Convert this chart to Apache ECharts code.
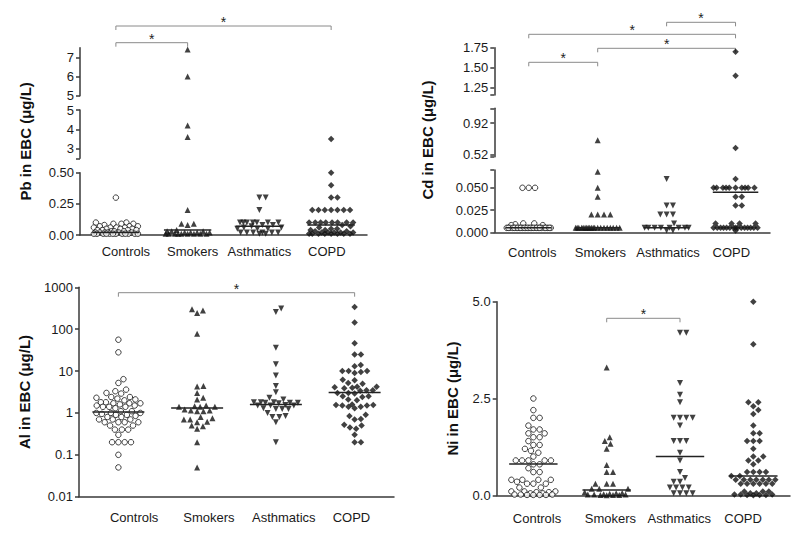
<!DOCTYPE html>
<html><head><meta charset="utf-8">
<script src="https://cdn.jsdelivr.net/npm/echarts@6/dist/echarts.min.js"></script>
<style>html,body{margin:0;padding:0;background:#fff}#c{width:800px;height:538px}</style>
</head><body><div id="c"></div>
<script>
// ---------------- DATA ----------------
const categories = ['Controls', 'Smokers', 'Asthmatics', 'COPD'];

const pbControls = [0.30, 0.10, 0.10, 0.09, 0.09, 0.09, 0.08, 0.07, 0.07, 0.07, 0.06, 0.06, 0.06, 0.06, 0.05, 0.05, 0.05, 0.04, 0.04, 0.04, 0.04, 0.03, 0.03, 0.03, 0.02, 0.02, 0.02, 0.02, 0.02, 0.02, 0.01, 0.01, 0.01, 0.01, 0.01, 0.01, 0.01, 0.01, 0.01, 0.01, 0.01, 0.01];
const pbSmokers = [7.4, 6.0, 4.2, 3.6, 0.20, 0.09, 0.09, 0.08, 0.04, 0.03, 0.03, 0.03, 0.02, 0.02, 0.02, 0.02, 0.01, 0.01, 0.01, 0.01, 0.01, 0.01, 0.01, 0.01, 0.01];
const pbAsthmatics = [0.30, 0.30, 0.20, 0.10, 0.10, 0.10, 0.10, 0.10, 0.10, 0.10, 0.08, 0.08, 0.07, 0.06, 0.06, 0.05, 0.05, 0.05, 0.02, 0.02, 0.02, 0.02, 0.02, 0.02, 0.01, 0.01];
const pbCopd = [3.5, 0.50, 0.40, 0.30, 0.30, 0.20, 0.20, 0.20, 0.20, 0.20, 0.20, 0.20, 0.10, 0.10, 0.10, 0.10, 0.10, 0.10, 0.10, 0.10, 0.08, 0.07, 0.06, 0.05, 0.05, 0.04, 0.04, 0.03, 0.03, 0.02, 0.02, 0.02, 0.02, 0.02, 0.01, 0.01, 0.01, 0.01, 0.01, 0.01, 0.01, 0.01];
const pbMedians = [0.02, 0.04, 0.07, 0.08];
const pbBrackets = [[0, 3], [0, 1]];

const cdControls = [0.05, 0.05, 0.05, 0.010, 0.010, 0.009, 0.008, 0.008, 0.005, 0.005, 0.005, 0.005, 0.005, 0.005, 0.005, 0.005, 0.005, 0.005, 0.005, 0.005, 0.005, 0.005, 0.005, 0.005, 0.005, 0.005, 0.005, 0.005, 0.005, 0.005, 0.005, 0.005, 0.005, 0.005, 0.005];
const cdSmokers = [0.70, 0.068, 0.05, 0.04, 0.02, 0.02, 0.02, 0.02, 0.005, 0.005, 0.005, 0.005, 0.005, 0.005, 0.005, 0.005, 0.005, 0.005, 0.005, 0.005, 0.005, 0.005, 0.005, 0.005, 0.005, 0.005, 0.005, 0.005];
const cdAsthmatics = [0.06, 0.03, 0.03, 0.02, 0.02, 0.02, 0.01, 0.005, 0.005, 0.005, 0.005, 0.005, 0.005, 0.005, 0.005, 0.002, 0.002];
const cdCopd = [1.70, 1.40, 0.60, 0.06, 0.05, 0.05, 0.05, 0.05, 0.05, 0.05, 0.05, 0.05, 0.05, 0.05, 0.04, 0.04, 0.03, 0.03, 0.01, 0.01, 0.01, 0.01, 0.005, 0.005, 0.005, 0.005, 0.005, 0.005, 0.005, 0.005, 0.005, 0.005, 0.005, 0.005, 0.005, 0.005, 0.005, 0.002];
const cdMedians = [0.005, 0.005, 0.005, 0.045];
const cdBrackets = [[0, 1], [1, 3], [0, 3], [2, 3]];

const alControls = [56, 28, 6.4, 5.2, 3.6, 3.3, 3.0, 2.9, 2.4, 2.4, 2.3, 2.2, 2.1, 2.0, 1.8, 1.8, 1.7, 1.7, 1.7, 1.6, 1.5, 1.5, 1.4, 1.4, 1.4, 1.3, 1.1, 1.1, 1.0, 1.0, 1.0, 0.95, 0.9, 0.9, 0.85, 0.8, 0.8, 0.7, 0.7, 0.7, 0.6, 0.6, 0.6, 0.6, 0.5, 0.5, 0.4, 0.4, 0.4, 0.3, 0.2, 0.2, 0.2, 0.2, 0.1, 0.05];
const alSmokers = [300, 280, 245, 78, 4.4, 4.3, 3.0, 2.3, 2.1, 1.5, 1.45, 1.4, 1.4, 1.4, 1.2, 1.15, 1.15, 1.1, 1.1, 0.8, 0.75, 0.7, 0.7, 0.62, 0.6, 0.5, 0.48, 0.42, 0.2, 0.05];
const alAsthmatics = [310, 257, 36, 14.6, 7.8, 4.4, 3.1, 2.3, 2.1, 1.8, 1.8, 1.8, 1.75, 1.75, 1.75, 1.7, 1.55, 1.5, 1.5, 1.5, 1.3, 1.25, 1.25, 1.25, 1.0, 0.85, 0.8, 0.8, 0.6, 0.2];
const alCopd = [340, 145, 46, 25, 25, 14, 13, 10, 10, 10, 9.5, 9, 6.2, 6, 5.2, 5, 4.2, 4.2, 4.1, 4.0, 3.9, 3.5, 3.5, 3.4, 3.0, 3.0, 2.9, 2.5, 2.5, 2.4, 2.1, 2.0, 1.6, 1.55, 1.55, 1.5, 1.5, 1.4, 1.4, 1.3, 0.9, 0.85, 0.72, 0.7, 0.52, 0.5, 0.45, 0.42, 0.3, 0.2, 0.2];
const alMedians = [1.06, 1.32, 1.59, 3.07];
const alBrackets = [[0, 3]];

const niControls = [2.5, 2.2, 2.0, 2.0, 1.8, 1.7, 1.7, 1.6, 1.6, 1.5, 1.5, 1.4, 1.3, 1.3, 1.2, 1.15, 1.1, 1.0, 0.9, 0.9, 0.9, 0.9, 0.9, 0.8, 0.8, 0.7, 0.6, 0.6, 0.4, 0.4, 0.4, 0.4, 0.35, 0.3, 0.3, 0.3, 0.2, 0.2, 0.1, 0.1, 0.1, 0.08, 0.08, 0.05, 0.05, 0.02, 0.02, 0.02, 0.01, 0.01, 0.01, 0.01];
const niSmokers = [3.3, 1.5, 1.4, 1.33, 1.2, 0.78, 0.6, 0.6, 0.3, 0.3, 0.3, 0.17, 0.17, 0.17, 0.08, 0.06, 0.05, 0.04, 0.03, 0.02, 0.02, 0.02, 0.01, 0.01, 0.01, 0.0];
const niAsthmatics = [4.2, 4.2, 2.9, 2.6, 2.4, 2.0, 2.0, 2.0, 2.0, 1.8, 1.4, 1.4, 1.4, 1.1, 0.9, 0.6, 0.45, 0.35, 0.35, 0.2, 0.2, 0.2, 0.2, 0.05, 0.05, 0.05, 0.05];
const niCopd = [5.0, 3.9, 2.4, 2.4, 2.3, 2.2, 2.1, 1.8, 1.6, 1.6, 1.4, 1.4, 1.4, 1.2, 1.0, 1.0, 0.9, 0.9, 0.8, 0.6, 0.6, 0.6, 0.6, 0.5, 0.5, 0.4, 0.4, 0.4, 0.4, 0.4, 0.4, 0.4, 0.3, 0.3, 0.3, 0.3, 0.3, 0.3, 0.1, 0.1, 0.1, 0.05, 0.05, 0.02, 0.02, 0.02, 0.01, 0.01, 0.01, 0.0];
const niMedians = [0.81, 0.14, 1.0, 0.5];
const niBrackets = [[1, 2]];

// ---------------- LAYOUT / STYLE ----------------
const FONT = '"Liberation Sans", Arial, Helvetica, sans-serif';
const TXT = '#1a1a1a';
const AX = '#3a3a3a';

const panels = [
  { title: 'Pb in EBC (μg/L)', groups: [pbControls, pbSmokers, pbAsthmatics, pbCopd], medians: pbMedians,
    brackets: pbBrackets, bracketY: [26, 42.7],
    left: 80, right: 367, nameGap: 47, labelMargin: 10, labelShift: [0.14, 0.07, 0, -0.06], separateName: true,
    segs: [
      { top: 172.7, bottom: 235, min: 0, max: 0.5, ticks: [0, 0.25, 0.5], labels: [0, 0.25, 0.5], dec: 2 },
      { top: 110, bottom: 158.3, min: 2.5, max: 5, ticks: [2.5, 3, 4, 5], labels: [3, 4, 5], dec: 0 },
      { top: 47.7, bottom: 95.7, min: 5, max: 7.5, ticks: [5, 6, 7], labels: [5, 6, 7], dec: 0 }
    ] },
  { title: 'Cd in EBC (μg/L)', groups: [cdControls, cdSmokers, cdAsthmatics, cdCopd], medians: cdMedians,
    brackets: cdBrackets, bracketY: [62.3, 48.3, 34.3, 22.3],
    left: 494.3, right: 770, nameGap: 59, labelMargin: 14, labelShift: [0.05, 0.04, 0.02, -0.06], separateName: true,
    segs: [
      { top: 170, bottom: 232.3, min: 0, max: 0.07, ticks: [0, 0.025, 0.05, 0.07], labels: [0, 0.025, 0.05], dec: 3 },
      { top: 108.3, bottom: 156.7, min: 0.49, max: 1.11, ticks: [0.49, 0.52, 0.92, 1.11], labels: [0.52, 0.92], dec: 2 },
      { top: 47.7, bottom: 95, min: 1.16, max: 1.75, ticks: [1.16, 1.25, 1.5, 1.75], labels: [1.25, 1.5, 1.75], dec: 2 }
    ] },
  { title: 'Al in EBC (μg/L)', groups: [alControls, alSmokers, alAsthmatics, alCopd], medians: alMedians,
    brackets: alBrackets, bracketY: [292.7],
    left: 79, right: 394, nameGap: 47, labelMargin: 14, labelShift: [0.2, 0.15, 0.1, -0.04], separateName: false,
    segs: [ { top: 287.3, bottom: 496.7, min: 0.01, max: 1000, log: true } ] },
  { title: 'Ni in EBC (μg/L)', groups: [niControls, niSmokers, niAsthmatics, niCopd], medians: niMedians,
    brackets: niBrackets, bracketY: [318.3],
    left: 496.7, right: 790, nameGap: 37, labelMargin: 17, labelShift: [0.05, 0.05, -0.01, -0.14], separateName: false,
    segs: [ { top: 301.7, bottom: 495.3, min: 0, max: 5, ticks: [0, 2.5, 5], labels: [0, 2.5, 5], dec: 1 } ] }
];

const groupStyles = [
  { symbol: 'circle', size: 5.5, rotate: 0, itemStyle: { color: '#fff', borderColor: '#111', borderWidth: 1 } },
  { symbol: 'triangle', size: 6, rotate: 0, itemStyle: { color: '#111' } },
  { symbol: 'triangle', size: 6, rotate: 180, itemStyle: { color: '#111' } },
  { symbol: 'diamond', size: 6.5, rotate: 0, itemStyle: { color: '#111' } }
];

function segOf(P, v) {
  for (let s = 0; s < P.segs.length; s++) {
    if (v >= P.segs[s].min && v <= P.segs[s].max) return s;
  }
  return 0;
}

const nameStyle = { fontSize: 15, fontWeight: 'bold', color: '#111', fontFamily: FONT };

const grids = [], xAxes = [], yAxes = [], series = [], seriesMeta = [];

panels.forEach((P, pi) => {
  P.xIdx = []; P.yIdx = [];
  P.segs.forEach((S, si) => {
    const gi = grids.length;
    grids.push({ left: P.left, top: S.top, width: P.right - P.left, height: S.bottom - S.top,
      containLabel: false, outerBoundsMode: 'none' });
    const isBottom = si === 0;
    xAxes.push({ gridIndex: gi, type: 'value', min: -0.5, max: 3.5, show: isBottom,
      splitLine: { show: false },
      axisLine: { show: true, onZero: false, lineStyle: { color: AX, width: 1.5 } },
      axisTick: { show: false },
      axisLabel: { customValues: [0, 1, 2, 3].map(c => c + P.labelShift[c]),
        formatter: v => categories[Math.round(v)], margin: P.labelMargin,
        fontSize: 13, color: TXT, fontFamily: FONT } });
    const y = { gridIndex: gi, type: S.log ? 'log' : 'value', min: S.min, max: S.max,
      splitLine: { show: false },
      axisLine: { show: true, onZero: false, lineStyle: { color: AX, width: 1.5 } },
      axisTick: { show: true, length: 4, lineStyle: { color: AX, width: 1.5 } },
      axisLabel: { fontSize: 13, lineHeight: 12, color: TXT, margin: 6, fontFamily: FONT } };
    if (S.log) {
      y.logBase = 10;
      y.axisLabel.formatter = v => String(+(+v).toPrecision(6));
    } else {
      y.axisTick.customValues = S.ticks;
      y.axisLabel.customValues = S.labels;
      const dec = S.dec;
      y.axisLabel.formatter = v => (+v).toFixed(dec);
    }
    if (!P.separateName) {
      Object.assign(y, { name: P.title, nameLocation: 'middle', nameGap: P.nameGap, nameRotate: 90,
        nameTextStyle: nameStyle, nameMoveOverlap: false });
    }
    yAxes.push(y);
    P.xIdx.push(xAxes.length - 1);
    P.yIdx.push(yAxes.length - 1);
  });
  if (P.separateName) {
    const top = Math.min(...P.segs.map(s => s.top));
    const bottom = Math.max(...P.segs.map(s => s.bottom));
    const gi = grids.length;
    grids.push({ left: P.left, top: top, width: P.right - P.left, height: bottom - top,
      containLabel: false, outerBoundsMode: 'none' });
    xAxes.push({ gridIndex: gi, type: 'value', min: 0, max: 1, show: false });
    yAxes.push({ gridIndex: gi, type: 'value', min: 0, max: 1,
      axisLine: { show: false, onZero: false }, axisTick: { show: false }, axisLabel: { show: false },
      splitLine: { show: false },
      name: P.title, nameLocation: 'middle', nameGap: P.nameGap, nameRotate: 90,
      nameTextStyle: nameStyle, nameMoveOverlap: false });
  }

  P.groups.forEach((vals, g) => {
    const st = groupStyles[g];
    P.segs.forEach((S, si) => {
      const idx = vals.map((v, i) => i).filter(i => segOf(P, vals[i]) === si);
      if (!idx.length) return;
      series.push({ type: 'scatter', xAxisIndex: P.xIdx[si], yAxisIndex: P.yIdx[si],
        symbol: st.symbol, symbolSize: st.size, symbolRotate: st.rotate,
        itemStyle: st.itemStyle, silent: true, animation: false, z: 3,
        data: idx.map(i => [g, vals[i]]) });
      seriesMeta.push({ pi, g, idx, seriesIndex: series.length - 1 });
    });
  });

  series.push({ type: 'custom', xAxisIndex: P.xIdx[0], yAxisIndex: P.yIdx[0], silent: true,
    animation: false, z: 5, clip: false,
    data: P.medians.map((m, g) => [g, m]),
    renderItem: (params, api) => {
      const x = api.value(0), yv = api.value(1);
      const a = api.coord([x - 0.33, yv]), b = api.coord([x + 0.33, yv]);
      return { type: 'line', shape: { x1: a[0], y1: a[1], x2: b[0], y2: b[1] },
        style: { stroke: '#222', lineWidth: 1.5 } };
    } });
});

const chart = echarts.init(document.getElementById('c'), null, { renderer: 'svg' });
chart.setOption({ animation: false, backgroundColor: '#fff', grid: grids, xAxis: xAxes, yAxis: yAxes, series });

// ---------------- beeswarm layout via axis scales ----------------
function swarm(pys, d, cap) {
  const placed = [];
  const xs = new Array(pys.length);
  const order = pys.map((y, i) => i).sort((a, b) => pys[b] - pys[a]);
  for (const i of order) {
    const y = pys[i];
    const near = placed.filter(p => Math.abs(p.y - y) < d);
    const cands = [0];
    near.forEach(p => { const w = Math.sqrt(d * d - (p.y - y) ** 2); cands.push(p.x + w, p.x - w); });
    cands.sort((a, b) => Math.abs(a) - Math.abs(b));
    let best = null;
    for (const c of cands) {
      if (Math.abs(c) > cap) break;
      if (near.every(p => (p.x - c) ** 2 + (p.y - y) ** 2 >= d * d - 0.01)) { best = c; break; }
    }
    if (best === null) {
      let bestScore = -1;
      for (let c = -cap; c <= cap + 1e-6; c += 0.5) {
        let m = Infinity;
        near.forEach(p => { const dd = Math.hypot(p.x - c, p.y - y); if (dd < m) m = dd; });
        if (m > bestScore + 1e-6) { bestScore = m; best = c; }
      }
    }
    xs[i] = best;
    placed.push({ x: best, y });
  }
  return xs;
}

const graphics = [];
const newSeries = series.map(() => ({}));
panels.forEach((P, pi) => {
  const xa = { xAxisIndex: P.xIdx[0] };
  const band = chart.convertToPixel(xa, 1) - chart.convertToPixel(xa, 0);
  const offsets = P.groups.map(vals => {
    const pys = vals.map(v => chart.convertToPixel({ yAxisIndex: P.yIdx[segOf(P, v)] }, v));
    return swarm(pys, 6.3, 22).map(o => o / band);
  });
  seriesMeta.filter(m => m.pi === pi).forEach(m => {
    const vals = P.groups[m.g];
    newSeries[m.seriesIndex] = { data: m.idx.map(i => [m.g + offsets[m.g][i], vals[i]]) };
  });
  P.brackets.forEach((br, k) => {
    const yb = P.bracketY[k];
    const x1 = chart.convertToPixel(xa, br[0]);
    const x2 = chart.convertToPixel(xa, br[1]);
    graphics.push({ type: 'polyline', silent: true,
      shape: { points: [[x1, yb + 4], [x1, yb], [x2, yb], [x2, yb + 4]] },
      style: { stroke: '#8a8a8a', lineWidth: 1, fill: null } });
    graphics.push({ type: 'text', silent: true, x: (x1 + x2) / 2, y: yb + 3,
      style: { text: '*', fill: '#222', font: '14px ' + FONT, textAlign: 'center', textVerticalAlign: 'bottom',
        align: 'center', verticalAlign: 'bottom' } });
  });
});
chart.setOption({ series: newSeries, graphic: graphics });
</script></body></html>
